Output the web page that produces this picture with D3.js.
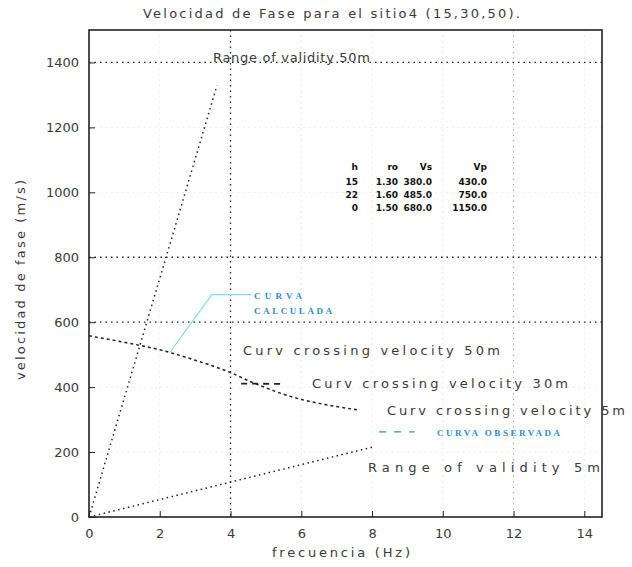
<!DOCTYPE html>
<html><head><meta charset="utf-8">
<script src="https://cdn.jsdelivr.net/npm/d3@7"></script>
<style>body{margin:0;background:#fff}svg{display:block}</style>
</head><body><svg id="c" width="632" height="567"></svg>
<script>
const titleText = "Velocidad de Fase para el sitio4 (15,30,50).";
const xLabel = "frecuencia (Hz)";
const yLabel = "velocidad de fase (m/s)";
const xTicks = [0,2,4,6,8,10,12,14];
const yTicks = [0,200,400,600,800,1000,1200,1400];
const darkGridX = [4];
const midGridX = [12];
const darkGridY = [600,800,1400];
// range lines from origin
const range50F = [0,3.62];
const range50V = [0,1330];
const range5F = [0,8.0];
const range5V = [0,215];
// crossing velocity curve
const curveF = [0,1,2,3,3.5,4,4.5,5,5.5,6,6.5,7,7.6];
const curveV = [558,538,515,483,465,445,420,398,378,362,350,340,330];
const branchF = [4.3,4.7,5.1,5.45];
const branchV = [411,411,410,410];
// legend leader for calculated curve
const leaderF = [2.3,3.47,4.58];
const leaderV = [509,685,685];
const obsF = [8.2,8.55,8.85,9.2];
const obsV = [262,262,262,262];
// parameter table
const tableHead = ["h","ro","Vs","Vp"];
const tableRows = [["15","1.30","380.0","430.0"],["22","1.60","485.0","750.0"],["0","1.50","680.0","1150.0"]];

const svg = d3.select("#c");
const L=89,R=602,T=30,B=517;
const x = d3.scaleLinear().domain([0,14.5]).range([L,R]);
const y = d3.scaleLinear().domain([0,1500]).range([B,T]);
const font = "DejaVu Sans, sans-serif";
const txt = "#3a3a3a";

// grid
svg.append("g").selectAll("line").data(xTicks.filter(d=>d>0)).join("line")
  .attr("x1",d=>x(d)).attr("x2",d=>x(d)).attr("y1",T).attr("y2",B)
  .attr("stroke",d=>darkGridX.includes(d)?"#222":midGridX.includes(d)?"#aaa":"#e4e4e4")
  .attr("stroke-width",d=>darkGridX.includes(d)?1.3:1)
  .attr("stroke-dasharray","1.5,4");
svg.append("g").selectAll("line").data(yTicks.filter(d=>d>0)).join("line")
  .attr("y1",d=>y(d)).attr("y2",d=>y(d)).attr("x1",L).attr("x2",R)
  .attr("stroke",d=>darkGridY.includes(d)?"#222":"#e4e4e4")
  .attr("stroke-width",d=>darkGridY.includes(d)?1.3:1)
  .attr("stroke-dasharray","1.5,4");

// frame
svg.append("rect").attr("x",L).attr("y",T).attr("width",R-L).attr("height",B-T)
  .attr("fill","none").attr("stroke","#222").attr("stroke-width",1.6);

// axes
const xa = svg.append("g").attr("transform",`translate(0,${B})`)
  .call(d3.axisBottom(x).tickValues(xTicks).tickSize(-6).tickPadding(12).tickFormat(d3.format("d")));
const ya = svg.append("g").attr("transform",`translate(${L},0)`)
  .call(d3.axisLeft(y).tickValues(yTicks).tickSize(-6).tickPadding(10).tickFormat(d3.format("d")));
[xa,ya].forEach(a=>{a.select(".domain").remove();
  a.selectAll(".tick line").attr("stroke","#222");
  a.selectAll("text").attr("fill",txt).attr("font-family",font).attr("font-size",13);});

const lab=(xx,yy,t,w,opts={})=>{const e=svg.append("text").attr("x",xx).attr("y",yy)
  .attr("font-family",opts.ff||font).attr("font-size",opts.fs||13).attr("fill",opts.fill||txt)
  .attr("font-weight",opts.fw||"normal").attr("textLength",w).attr("lengthAdjust","spacing").text(t);
  if(opts.tr) e.attr("transform",opts.tr); return e;};

// titles
lab(143,18,titleText,377);
lab(272,557,xLabel,138);
lab(0,0,yLabel,200,{tr:`translate(25,380) rotate(-90)`});

const line = d3.line().x(d=>x(d[0])).y(d=>y(d[1]));
const zip=(a,b)=>a.map((v,i)=>[v,b[i]]);

svg.append("path").attr("d",line(zip(range50F,range50V))).attr("fill","none")
  .attr("stroke","#222").attr("stroke-width",1.5).attr("stroke-dasharray","1.5,3.5");
svg.append("path").attr("d",line(zip(range5F,range5V))).attr("fill","none")
  .attr("stroke","#222").attr("stroke-width",1.5).attr("stroke-dasharray","1.5,3.5");
svg.append("path").attr("d",d3.line().curve(d3.curveMonotoneX).x(d=>x(d[0])).y(d=>y(d[1]))(zip(curveF,curveV)))
  .attr("fill","none").attr("stroke","#222").attr("stroke-width",1.5).attr("stroke-dasharray","3,3");
svg.append("path").attr("d",line(zip(branchF,branchV))).attr("fill","none")
  .attr("stroke","#222").attr("stroke-width",1.8).attr("stroke-dasharray","6,5");

// cyan leader + calculated label
svg.append("path").attr("d",line(zip(leaderF,leaderV))).attr("fill","none")
  .attr("stroke","#7fdcf0").attr("stroke-width",1.2);
const blue="#2a8ee0";
const sf="Liberation Serif, serif";
lab(x(leaderF[2])+3,y(leaderV[2])+4,"CURVA",48,{ff:sf,fs:9,fw:"bold",fill:blue});
lab(x(leaderF[2])+3,y(leaderV[2])+19,"CALCULADA",78,{ff:sf,fs:9,fw:"bold",fill:blue});
svg.append("path").attr("d",line(zip(obsF,obsV))).attr("fill","none")
  .attr("stroke",blue).attr("stroke-width",1.2).attr("stroke-dasharray","7,8");
lab(437,y(obsV[3])+4,"CURVA OBSERVADA",123,{ff:sf,fs:9,fw:"bold",fill:blue});

// curve labels
lab(213,62,"Range of validity 50m",157);
lab(368,472,"Range of validity 5m",232);
lab(243,355,"Curv crossing velocity 50m",257);
lab(312,388,"Curv crossing velocity 30m",256);
lab(387,415,"Curv crossing velocity 5m",238);

// table
const colX=[358,398,432,487];
const tg=svg.append("g").attr("font-family",font).attr("font-size",9).attr("font-weight","bold").attr("fill","#111");
tableHead.forEach((h,i)=>tg.append("text").attr("x",colX[i]).attr("y",170).attr("text-anchor","end").text(h));
tableRows.forEach((r,j)=>r.forEach((v,i)=>tg.append("text").attr("x",colX[i]).attr("y",185+j*13).attr("text-anchor","end").text(v)));
</script></body></html>
